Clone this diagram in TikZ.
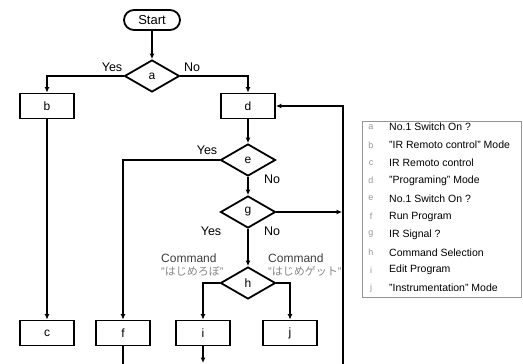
\documentclass[tikz,border=0pt]{standalone}
\usepackage{fontspec}
\setmainfont{Liberation Sans}
\newfontfamily\jp{Noto Sans CJK JP}
\usetikzlibrary{arrows.meta,shapes.geometric}
\definecolor{lblgray}{RGB}{60,60,60}
\definecolor{jpgray}{RGB}{135,135,135}
\definecolor{leggray}{RGB}{150,150,150}
\tikzset{
  line/.style={line width=1.8pt},
  arr/.style={line width=1.8pt,-{Latex[length=5.5pt,width=5pt]}},
  procbox/.style={draw,line width=1.8pt,minimum width=54pt,minimum height=25pt,inner sep=0pt,font=\fontsize{12}{14}\selectfont},
  decbox/.style={draw,line width=1.8pt,diamond,minimum width=55pt,minimum height=32pt,inner sep=0pt,font=\fontsize{12}{14}\selectfont},
  termbox/.style={draw,line width=1.8pt,rounded corners=10pt,minimum width=56pt,minimum height=20pt,inner sep=0pt,font=\fontsize{13}{15}\selectfont},
  lbl/.style={font=\fontsize{12.5}{14}\selectfont,inner sep=0pt},
  cmdlbl/.style={font=\fontsize{12}{14}\selectfont,text=lblgray,inner sep=0pt,align=left},
  legkey/.style={font=\fontsize{9}{10}\selectfont,text=leggray,inner sep=0pt},
  legtxt/.style={font=\fontsize{10.5}{12}\selectfont,anchor=west,inner sep=0pt},
}
\begin{document}
\begin{tikzpicture}[x=1pt,y=-1pt]
\useasboundingbox (0,0) rectangle (523,364);
% nodes
\node[termbox] (start) at (152,20) {Start};
\node[decbox] (a) at (152,76) {a};
\node[procbox] (b) at (47,106) {b};
\node[procbox] (d) at (248,106) {d};
\node[decbox] (e) at (248,160) {e};
\node[decbox] (g) at (248,212) {g};
\node[decbox] (h) at (248,283) {h};
\node[procbox] (c) at (47,333) {c};
\node[procbox] (f) at (123,333) {f};
\node[procbox] (i) at (203,333) {i};
\node[procbox] (j) at (290,333) {j};
\coordinate (rbot) at (343,366);
\coordinate (rmid) at (343,212);
\coordinate (fbot) at (123,366);
\coordinate (ibot) at (203,363);
% connectors
\draw[arr] (start) -- (a);
\draw[arr] (a.west) -| (b.north);
\draw[arr] (a.east) -| (d.north);
\draw[arr] (b) -- (c);
\draw[arr] (d) -- (e);
\draw[arr] (e.west) -| (f.north);
\draw[arr] (e) -- (g);
\draw[arr] (g.east) -- ([xshift=-0.9pt]rmid);
\draw[arr] (rbot) |- (d.east);
\draw[arr] (g) -- (h);
\draw[arr] (h.west) -| (i.north);
\draw[arr] (h.east) -| (j.north);
\draw[line] (f.south) -- (fbot);
\draw[arr] (i.south) -- (ibot);
% labels
\node[lbl] (ya) at (112,67) {Yes};
\node[lbl] (na) at (192,67) {No};
\node[lbl] (ye) at (207,150) {Yes};
\node[lbl] (ne) at (272,179) {No};
\node[lbl] (yg) at (211,231) {Yes};
\node[lbl] (ng) at (272,231) {No};
\node[cmdlbl,anchor=north west] (cl) at (161,254) {Command\\[-1pt]{\fontsize{11}{13}\selectfont\color{jpgray}"{\jp はじめろぼ}"}};
\node[cmdlbl,anchor=north west] (cr) at (268,254) {Command\\[-1pt]{\fontsize{11}{13}\selectfont\color{jpgray}"{\jp はじめゲット}"}};
% legend
\draw[leggray,line width=0.6pt] (362,121) rectangle (521,297);
\foreach \k/\t [count=\n from 0] in {a/{No.1 Switch On ?},b/{"IR Remoto control" Mode},c/{IR Remoto control},d/{"Programing" Mode},e/{No.1 Switch On ?},f/{Run Program},g/{IR Signal ?},h/{Command Selection},i/{Edit Program},j/{"Instrumentation" Mode}}{
  \node[legkey] (lk\n) at (371,127+17.9*\n) {\k};
  \node[legtxt] (lt\n) at (389,127+17.9*\n) {\t};
}
\end{tikzpicture}
\end{document}
